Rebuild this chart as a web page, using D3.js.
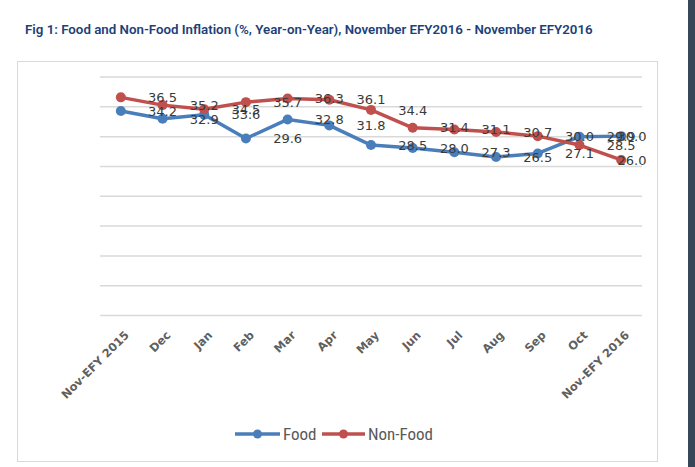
<!DOCTYPE html>
<html>
<head>
<meta charset="utf-8">
<script src="https://cdn.jsdelivr.net/npm/d3@7"></script>
<style>
  body { margin: 0; background: #fff; }
  svg { display: block; }
</style>
</head>
<body>
<div id="chart"></div>
<script>
// Months on the x axis
const months = ["Nov-EFY 2015", "Dec", "Jan", "Feb", "Mar", "Apr", "May",
  "Jun", "Jul", "Aug", "Sep", "Oct", "Nov-EFY 2016"];

// Year-on-year inflation, %
const food = [34.2, 32.9, 33.6, 29.6, 32.8, 31.8, 28.5, 28.0, 27.3, 26.5, 27.1, 29.9, 30.0];
const nonFood = [36.5, 35.2, 34.5, 35.7, 36.3, 36.1, 34.4, 31.4, 31.1, 30.7, 30.0, 28.5, 26.0];

const yTicks = [0, 5, 10, 15, 20, 25, 30, 35, 40];

const series = [
  { name: "Food", values: food, color: "#4a7ebb" },
  { name: "Non-Food", values: nonFood, color: "#c0504d" }
];

const W = 695, H = 467;
const svg = d3.select("#chart").append("svg")
  .attr("width", W).attr("height", H);

svg.append("rect").attr("width", W).attr("height", H).attr("fill", "#fff");

// dark strip on the right edge
svg.append("rect").attr("x", 688).attr("y", 0).attr("width", 7).attr("height", H)
  .attr("fill", "#37475a");

// title
svg.append("text")
  .attr("x", 25).attr("y", 34)
  .attr("font-family", "Roboto, 'Open Sans', sans-serif")
  .attr("font-size", 13.3)
  .attr("font-weight", 600)
  .attr("fill", "#213f78")
  .text("Fig 1: Food and Non-Food Inflation (%, Year-on-Year), November EFY2016 - November EFY2016");

// chart frame
svg.append("rect")
  .attr("x", 17.5).attr("y", 61.5).attr("width", 640).attr("height", 400)
  .attr("fill", "none").attr("stroke", "#d9d9d9");

// scales
const x = d3.scalePoint().domain(months).range([100, 642]).padding(0.5);
const y = d3.scaleLinear().domain([0, 40]).range([315, 76.5]);
const step = x.step();

// gridlines
svg.append("g")
  .attr("transform", "translate(100,0)")
  .call(d3.axisLeft(y).tickValues(yTicks).tickSize(-542).tickFormat(""))
  .call(g => g.select(".domain").remove())
  .selectAll(".tick line")
  .attr("stroke", "#d9d9d9")
  .attr("stroke-width", 1.5);

// x labels, rotated
svg.append("g")
  .selectAll("text")
  .data(months)
  .join("text")
  .attr("transform", d => `translate(${x(d) + 6},${333}) rotate(-45)`)
  .attr("text-anchor", "end")
  .attr("dy", "0.35em")
  .attr("font-family", "'DejaVu Sans', Verdana, sans-serif")
  .attr("font-size", 11.5)
  .attr("font-weight", "bold")
  .attr("fill", "#5f5f5f")
  .text(d => d);

// lines and markers
const line = d3.line()
  .x((d, i) => x(months[i]))
  .y(d => y(d));

series.forEach(s => {
  const g = svg.append("g");
  g.append("path")
    .datum(s.values)
    .attr("fill", "none")
    .attr("stroke", s.color)
    .attr("stroke-width", 3.5)
    .attr("stroke-linejoin", "round")
    .attr("d", line);
  g.selectAll("circle")
    .data(s.values)
    .join("circle")
    .attr("cx", (d, i) => x(months[i]))
    .attr("cy", d => y(d))
    .attr("r", 5)
    .attr("fill", s.color);
});

// data labels, sitting one step to the right of each point
series.forEach(s => {
  svg.append("g")
    .selectAll("text")
    .data(s.values)
    .join("text")
    .attr("x", (d, i) => Math.min(x(months[i]) + step, 632))
    .attr("y", d => y(d))
    .attr("dy", "0.36em")
    .attr("text-anchor", "middle")
    .attr("font-family", "'DejaVu Sans', sans-serif")
    .attr("font-size", 13)
    .attr("fill", "#3a3a3a")
    .text(d => d.toFixed(1));
});

// legend
const legend = svg.append("g").attr("transform", "translate(0,434)");
const legendItems = [
  { s: series[0], x0: 235, x1: 280, tx: 283 },
  { s: series[1], x0: 322, x1: 365, tx: 368 }
];
legendItems.forEach(it => {
  legend.append("line")
    .attr("x1", it.x0).attr("x2", it.x1).attr("y1", 0).attr("y2", 0)
    .attr("stroke", it.s.color).attr("stroke-width", 3.5);
  legend.append("circle")
    .attr("cx", (it.x0 + it.x1) / 2).attr("cy", 0).attr("r", 4.5)
    .attr("fill", it.s.color);
  legend.append("text")
    .attr("x", it.tx).attr("y", 0).attr("dy", "0.36em")
    .attr("font-family", "'Liberation Sans Narrow', 'Roboto Condensed', sans-serif")
    .attr("font-size", 17)
    .attr("fill", "#595959")
    .text(it.s.name);
});
</script>
</body>
</html>
